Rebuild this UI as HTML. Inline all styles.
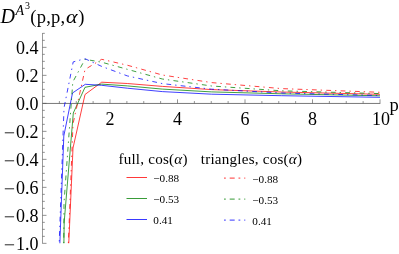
<!DOCTYPE html>
<html><head><meta charset="utf-8"><title>plot</title>
<style>html,body{margin:0;padding:0;background:#fff;}body{width:399px;height:254px;overflow:hidden;position:relative;font-family:"Liberation Serif",serif;}</style>
</head><body>
<svg width="399" height="254" viewBox="0 0 399 254" style="position:absolute;left:0;top:0;will-change:transform">
<defs><clipPath id="c"><rect x="42" y="40" width="340" height="203.35"/></clipPath></defs>
<path d="M42.5 33.1 V243.6" stroke="#555" stroke-width="0.6" fill="none"/>
<path d="M42.5 103.45 H380.3" stroke="#555" stroke-width="0.8" fill="none"/>
<path d="M42.5 243.35 h4.0 M42.5 236.35 h2.3 M42.5 229.35 h2.3 M42.5 222.35 h2.3 M42.5 215.35 h4.0 M42.5 208.35 h2.3 M42.5 201.35 h2.3 M42.5 194.35 h2.3 M42.5 187.35 h4.0 M42.5 180.35 h2.3 M42.5 173.35 h2.3 M42.5 166.35 h2.3 M42.5 159.35 h4.0 M42.5 152.35 h2.3 M42.5 145.35 h2.3 M42.5 138.35 h2.3 M42.5 131.35 h4.0 M42.5 124.35 h2.3 M42.5 117.35 h2.3 M42.5 110.35 h2.3 M42.5 103.35 h4.0 M42.5 96.35 h2.3 M42.5 89.35 h2.3 M42.5 82.35 h2.3 M42.5 75.35 h4.0 M42.5 68.35 h2.3 M42.5 61.35 h2.3 M42.5 54.35 h2.3 M42.5 47.35 h4.0 M42.5 40.35 h2.3 M42.5 33.35 h2.3 M59.38 103.35 v-2.3 M76.25 103.35 v-2.3 M93.12 103.35 v-2.3 M110.00 103.35 v-4.0 M126.88 103.35 v-2.3 M143.75 103.35 v-2.3 M160.62 103.35 v-2.3 M177.50 103.35 v-4.0 M194.38 103.35 v-2.3 M211.25 103.35 v-2.3 M228.12 103.35 v-2.3 M245.00 103.35 v-4.0 M261.88 103.35 v-2.3 M278.75 103.35 v-2.3 M295.62 103.35 v-2.3 M312.50 103.35 v-4.0 M329.38 103.35 v-2.3 M346.25 103.35 v-2.3 M363.12 103.35 v-2.3 M380.00 103.35 v-4.0" stroke="#555" stroke-width="0.64" fill="none"/>
<g clip-path="url(#c)" fill="none" stroke-width="0.75" stroke-linejoin="round">
<path d="M57.60 496.00 L64.00 351.00 L73.00 148.00 L85.00 94.50 L101.70 82.20 L127.30 83.50 L162.30 86.40 L211.70 89.60 L281.40 92.00 L380.00 94.30" stroke="#ff0000"/>
<path d="M57.60 684.00 L64.20 222.00 L73.30 113.00 L85.00 87.30 L101.70 84.10 L127.30 85.90 L162.30 89.10 L211.70 91.90 L281.40 93.80 L380.00 95.80" stroke="#008000"/>
<path d="M57.60 305.00 L63.80 136.00 L72.50 93.00 L85.30 84.30 L101.70 85.30 L127.30 88.20 L162.30 91.60 L211.70 94.20 L281.40 95.70 L380.00 97.30" stroke="#0000ff"/>
<path d="M57.60 520.00 L64.00 355.00 L73.00 124.00 L85.00 69.50 L101.70 59.30 L127.30 65.20 L162.30 75.00 L211.70 82.60 L281.40 88.60 L380.00 92.30" stroke="#ff0000" stroke-dasharray="4.8 3.95 1.4 4.21" stroke-dashoffset="4.51"/>
<path d="M57.60 1483.00 L64.00 203.00 L72.80 82.00 L85.00 59.30 L101.70 62.20 L127.30 69.30 L162.30 79.00 L211.70 86.00 L281.40 90.80 L380.00 93.60" stroke="#008000" stroke-dasharray="4.8 3.95 1.4 4.21" stroke-dashoffset="3.95"/>
<path d="M57.60 288.50 L64.00 108.00 L73.20 61.90 L85.00 58.70 L101.70 66.40 L127.30 75.90 L162.30 83.60 L211.70 89.20 L281.40 93.00 L380.00 95.50" stroke="#0000ff" stroke-dasharray="4.8 3.95 1.4 4.21" stroke-dashoffset="4.76"/>
</g>
<path d="M126.5 177.5 H147" stroke="#ff0000" stroke-width="0.78"/>
<path d="M224 178.1 H245.3" stroke="#ff0000" stroke-width="0.8" stroke-dasharray="1.8 3.9 5 3.8"/>
<path d="M126.5 198.5 H147" stroke="#008000" stroke-width="0.78"/>
<path d="M224 199.1 H245.3" stroke="#008000" stroke-width="0.8" stroke-dasharray="1.8 3.9 5 3.8"/>
<path d="M126.5 219.5 H147" stroke="#0000ff" stroke-width="0.78"/>
<path d="M224 220.1 H245.3" stroke="#0000ff" stroke-width="0.8" stroke-dasharray="1.8 3.9 5 3.8"/>
<path d="M4.8 132.80 H14.1 M4.8 160.80 H14.1 M4.8 188.80 H14.1 M4.8 216.80 H14.1 M4.8 244.80 H14.1" stroke="#000" stroke-width="0.85" fill="none"/>
<g font-family="'Liberation Serif', serif" fill="#000"><text x="38.6" y="54.1" font-size="18" text-anchor="end" >0.4</text><text x="38.6" y="82.1" font-size="18" text-anchor="end" >0.2</text><text x="38.6" y="110.1" font-size="18" text-anchor="end" >0.0</text><text x="38.6" y="138.2" font-size="18" text-anchor="end" >0.2</text><text x="38.6" y="166.2" font-size="18" text-anchor="end" >0.4</text><text x="38.6" y="194.2" font-size="18" text-anchor="end" >0.6</text><text x="38.6" y="222.2" font-size="18" text-anchor="end" >0.8</text><text x="38.6" y="250.2" font-size="18" text-anchor="end" >1.0</text><text x="110.0" y="124.8" font-size="18" text-anchor="middle" >2</text><text x="177.5" y="124.8" font-size="18" text-anchor="middle" >4</text><text x="245.0" y="124.8" font-size="18" text-anchor="middle" >6</text><text x="312.5" y="124.8" font-size="18" text-anchor="middle" >8</text><text x="381.1" y="124.8" font-size="18" text-anchor="middle" >10</text><text x="389.6" y="110.6" font-size="18.5" text-anchor="start" >p</text><text x="0.5" y="23.2" font-size="20" text-anchor="start" ><tspan font-style="italic">D</tspan></text><text x="15.6" y="14.6" font-size="14" text-anchor="start" font-style="italic">A</text><text x="25.0" y="8.8" font-size="10" text-anchor="start" >3</text><text x="30.3" y="23.0" font-size="18.5" text-anchor="start" letter-spacing="0.22">(p,p,</text><text x="66.0" y="23.0" font-size="18.5" text-anchor="start" font-style="italic" textLength="11.5" lengthAdjust="spacingAndGlyphs">α</text><text x="78.3" y="23.0" font-size="18.5" text-anchor="start" >)</text><text x="118.4" y="164.1" font-size="15.1" text-anchor="start" letter-spacing="0.22">full, cos(<tspan font-style="italic">α</tspan>)</text><text x="200.8" y="164.1" font-size="15.1" text-anchor="start" letter-spacing="0.22">triangles, cos(<tspan font-style="italic">α</tspan>)</text><text x="153.3" y="182.1" font-size="11.2" text-anchor="start" >−0.88</text><text x="252.3" y="182.7" font-size="11.2" text-anchor="start" >−0.88</text><text x="153.3" y="203.1" font-size="11.2" text-anchor="start" >−0.53</text><text x="252.3" y="203.7" font-size="11.2" text-anchor="start" >−0.53</text><text x="153.3" y="224.1" font-size="11.2" text-anchor="start" >0.41</text><text x="252.3" y="224.7" font-size="11.2" text-anchor="start" >0.41</text></g>
</svg>
</body></html>
